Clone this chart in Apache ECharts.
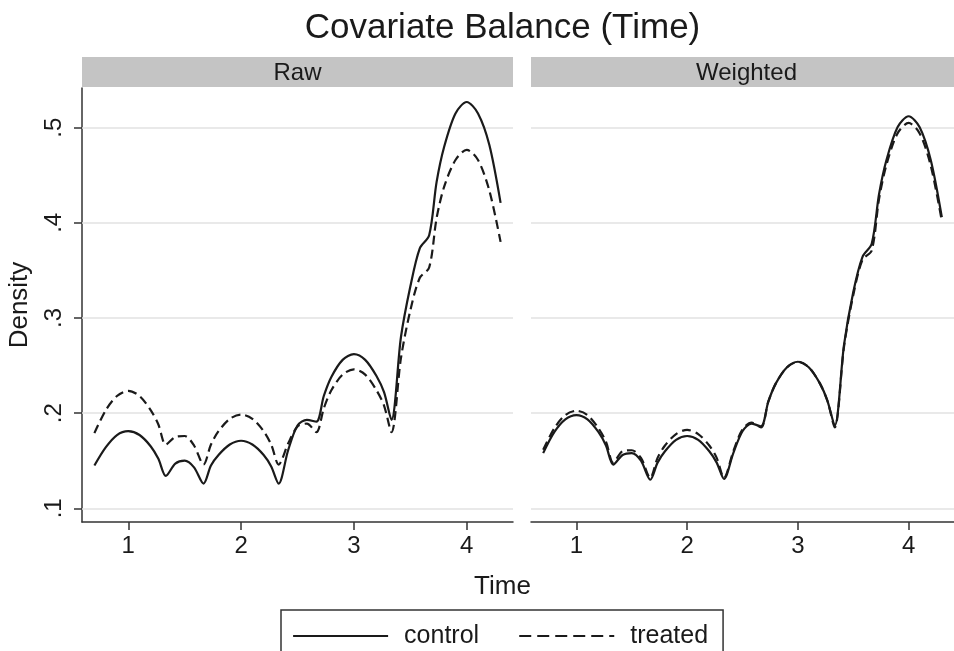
<!DOCTYPE html>
<html>
<head>
<meta charset="utf-8">
<title>Covariate Balance (Time)</title>
<script src="https://cdn.jsdelivr.net/npm/echarts@6/dist/echarts.min.js"></script>
<style>
  html, body { margin: 0; padding: 0; background: #fff; }
  #chart { width: 954px; height: 651px; }
</style>
</head>
<body>
<div id="chart"></div>
<script>
// evaluation points along Time (shared by all four curves)
const timeGrid = [0.7, 0.8, 0.9, 1.0, 1.1, 1.2, 1.267, 1.333, 1.417, 1.5, 1.583, 1.667, 1.733, 1.8, 1.9, 2.0, 2.1, 2.2, 2.267, 2.333, 2.417, 2.5, 2.583, 2.667, 2.733, 2.8, 2.9, 3.0, 3.1, 3.2, 3.267, 3.333, 3.417, 3.5, 3.583, 3.667, 3.733, 3.8, 3.9, 4.0, 4.1, 4.2, 4.3];

// Raw panel
const rawControl = [0.145, 0.164, 0.177, 0.181, 0.177, 0.165, 0.152, 0.134, 0.147, 0.150, 0.143, 0.126, 0.145, 0.156, 0.167, 0.171, 0.167, 0.156, 0.144, 0.126, 0.161, 0.187, 0.193, 0.191, 0.218, 0.238, 0.256, 0.262, 0.256, 0.239, 0.222, 0.193, 0.280, 0.333, 0.373, 0.387, 0.443, 0.480, 0.515, 0.527, 0.515, 0.482, 0.421];
const rawTreated = [0.179, 0.203, 0.218, 0.2235, 0.218, 0.203, 0.188, 0.167, 0.175, 0.176, 0.166, 0.146, 0.167, 0.181, 0.194, 0.1985, 0.194, 0.181, 0.167, 0.146, 0.168, 0.186, 0.189, 0.180, 0.205, 0.224, 0.2405, 0.246, 0.2405, 0.224, 0.208, 0.180, 0.258, 0.308, 0.342, 0.353, 0.405, 0.438, 0.466, 0.4767, 0.466, 0.434, 0.380];

// Weighted panel
const wtdControl = [0.158, 0.180, 0.1935, 0.198, 0.1935, 0.180, 0.166, 0.146, 0.156, 0.158, 0.150, 0.130, 0.148, 0.160, 0.172, 0.176, 0.172, 0.160, 0.148, 0.131, 0.158, 0.181, 0.189, 0.186, 0.212, 0.231, 0.248, 0.254, 0.248, 0.231, 0.213, 0.187, 0.272, 0.327, 0.364, 0.378, 0.430, 0.466, 0.5005, 0.512, 0.5005, 0.466, 0.406];
const wtdTreated = [0.1615, 0.184, 0.198, 0.2025, 0.198, 0.184, 0.170, 0.148, 0.160, 0.161, 0.153, 0.132, 0.153, 0.166, 0.178, 0.1825, 0.178, 0.166, 0.153, 0.132, 0.160, 0.183, 0.190, 0.185, 0.212, 0.231, 0.248, 0.254, 0.248, 0.231, 0.213, 0.185, 0.270, 0.324, 0.361, 0.371, 0.425, 0.461, 0.494, 0.505, 0.494, 0.460, 0.402];

const xTicks = [1, 2, 3, 4];
const yTicks = [0.1, 0.2, 0.3, 0.4, 0.5];
const panels = ['Raw', 'Weighted'];
const groups = ['control', 'treated'];

const font = '"Liberation Sans", Arial, Helvetica, sans-serif';
const ink = '#1a1a1a';
const strip = '#c4c4c4';

const boxes = [
  { left: 82, top: 88, width: 431, height: 434 },
  { left: 531, top: 88, width: 431, height: 434 }
];

function pairs(ys) {
  return timeGrid.map((t, i) => [t, ys[i]]);
}

function curve(name, ys, idx, dashed) {
  return {
    name: name,
    type: 'line',
    xAxisIndex: idx,
    yAxisIndex: idx,
    data: pairs(ys),
    symbol: 'none',
    showSymbol: false,
    smooth: 0.3,
    z: 10,
    lineStyle: { color: ink, width: 2.2, type: dashed ? [9, 5] : 'solid' },
    itemStyle: { color: ink },
    emphasis: { disabled: true }
  };
}

function gridLines(idx) {
  return {
    type: 'line',
    xAxisIndex: idx,
    yAxisIndex: idx,
    data: [],
    silent: true,
    markLine: {
      silent: true,
      symbol: 'none',
      z: 1,
      animation: false,
      label: { show: false },
      lineStyle: { color: '#e2e2e2', width: 1.5, type: 'solid' },
      data: yTicks.map(v => ({ yAxis: v }))
    }
  };
}

const xAxes = boxes.map((b, i) => ({
  type: 'value',
  gridIndex: i,
  min: 0.59,
  max: 4.41,
  axisLine: { show: true, lineStyle: { color: '#333', width: 1.5 } },
  axisTick: { show: true, customValues: xTicks, length: 8, lineStyle: { color: '#333', width: 1.5 } },
  axisLabel: { customValues: xTicks, fontSize: 24, fontFamily: font, color: ink, margin: 12 },
  splitLine: { show: false }
}));

const yAxes = boxes.map((b, i) => ({
  type: 'value',
  gridIndex: i,
  min: 0.0856,
  max: 0.5417,
  name: i === 0 ? 'Density' : '',
  nameLocation: 'middle',
  nameGap: 49,
  nameTextStyle: { fontSize: 26, fontFamily: font, color: ink },
  axisLine: { show: i === 0, lineStyle: { color: '#333', width: 1.5 } },
  axisTick: { show: i === 0, customValues: yTicks, length: 8, lineStyle: { color: '#333', width: 1.5 } },
  axisLabel: {
    show: i === 0,
    customValues: yTicks,
    rotate: 90,
    margin: 16,
    fontSize: 24,
    fontFamily: font,
    color: ink,
    formatter: v => String(+v.toFixed(2)).replace(/^0\./, '.')
  },
  splitLine: { show: false }
}));

const headers = [];
boxes.forEach((b, i) => {
  headers.push({
    type: 'rect',
    shape: { x: b.left, y: 57, width: b.width, height: 30 },
    style: { fill: strip },
    silent: true
  });
  headers.push({
    type: 'text',
    x: b.left + b.width / 2,
    y: 73,
    style: { text: panels[i], fontSize: 24, fontFamily: font, fill: ink, align: 'center', verticalAlign: 'middle' },
    silent: true
  });
});

const option = {
  animation: false,
  backgroundColor: '#fff',
  grid: boxes.map(b => Object.assign({ containLabel: false }, b)),
  xAxis: xAxes,
  yAxis: yAxes,
  legend: {
    data: [
      { name: 'control', lineStyle: { type: 'solid' } },
      { name: 'treated', lineStyle: { type: [12, 6] } }
    ],
    left: 281,
    top: 610,
    orient: 'horizontal',
    itemWidth: 95,
    itemHeight: 14,
    itemGap: 39,
    padding: [12, 15, 40, 11],
    borderColor: '#333',
    borderWidth: 1.5,
    selectedMode: false,
    itemStyle: { opacity: 0, borderWidth: 0 },
    lineStyle: { width: 2.2 },
    textStyle: { fontSize: 25, fontFamily: font, color: ink, padding: [0, 0, 0, 11], lineHeight: 28 }
  },
  graphic: headers.concat([
    {
      type: 'text',
      x: 502.5,
      y: 28,
      style: { text: 'Covariate Balance (Time)', fontSize: 35, fontFamily: font, fill: ink, align: 'center', verticalAlign: 'middle' },
      silent: true
    },
    {
      type: 'text',
      x: 502.5,
      y: 587,
      style: { text: 'Time', fontSize: 26, fontFamily: font, fill: ink, align: 'center', verticalAlign: 'middle' },
      silent: true
    }
  ]),
  series: [
    gridLines(0),
    gridLines(1),
    curve('control', rawControl, 0, false),
    curve('treated', rawTreated, 0, true),
    curve('control', wtdControl, 1, false),
    curve('treated', wtdTreated, 1, true)
  ]
};

const chart = echarts.init(document.getElementById('chart'), null, { renderer: 'canvas' });
chart.setOption(option);
</script>
</body>
</html>
